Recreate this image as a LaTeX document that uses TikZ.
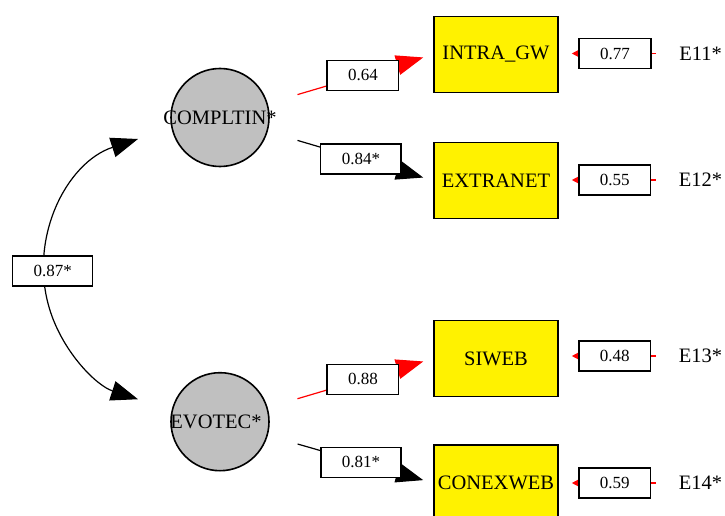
\documentclass[tikz,border=0pt]{standalone}
\usepackage{fontspec}
\setmainfont{Liberation Serif}
\usetikzlibrary{arrows.meta}
\definecolor{latgray}{HTML}{C0C0C0}
\begin{document}
\begin{tikzpicture}[x=1pt,y=-1pt,
  big/.style={font=\fontsize{20.5}{24}\selectfont},
  latent/.style={circle,draw=black,line width=1.6pt,fill=latgray,minimum size=98pt,inner sep=0pt},
  manifest/.style={rectangle,draw=black,line width=1.6pt,fill=yellow,minimum width=124pt,minimum height=76pt,inner sep=0pt,big},
  coef/.style={rectangle,draw=black,text=black,line width=1.4pt,fill=white,inner xsep=21pt,inner ysep=0pt,minimum height=30pt,font=\fontsize{17}{20}\selectfont},
  loading/.style={line width=1.2pt,-{Triangle[length=27pt,width=20pt]},shorten <=31pt,shorten >=10.4pt},
  err/.style={red,line width=1.2pt,-{Triangle[length=6pt,width=6pt]},shorten <=23pt,shorten >=13pt},
  elabel/.style={big,inner sep=0pt}
]
\path[use as bounding box,clip] (0,0) rectangle (725,516);
\fill[white] (0,0) rectangle (725,516);

% latent variables
\node[latent,label={center:\fontsize{20.5}{24}\selectfont COMPLTIN*}] (c1) at (220,117.5) {};
\node[latent,label={[xshift=-4pt]center:\fontsize{20.5}{24}\selectfont EVOTEC*}] (c2) at (220,421.7) {};

% manifest variables
\node[manifest] (m1) at (496,54.5) {INTRA\_GW};
\node[manifest] (m2) at (496,180.5) {EXTRANET};
\node[manifest] (m3) at (496,358.5) {SIWEB};
\node[manifest] (m4) at (496,483) {CONEXWEB};

% error labels
\node[elabel] (e1) at (700.5,53.5) {E11*};
\node[elabel] (e2) at (700.5,180) {E12*};
\node[elabel] (e3) at (700.5,356) {E13*};
\node[elabel] (e4) at (700.5,483) {E14*};

% loadings
\draw[loading,red] (c1) -- node[coef,pos=0.575] (l1) {0.64} (m1.west);
\draw[loading,black] (c1) -- node[coef,pos=0.563] (l2) {0.84*} (m2.west);
\draw[loading,red] (c2) -- node[coef,pos=0.575] (l3) {0.88} (m3.west);
\draw[loading,black] (c2) -- node[coef,pos=0.563] (l4) {0.81*} (m4.west);

% error paths
\draw[err] (e1.west) -- node[coef,pos=0.533] (v1) {0.77} (m1.east |- e1.west);
\draw[err] (e2.west) -- node[coef,pos=0.533] (v2) {0.55} (m2.east |- e2.west);
\draw[err] (e3.west) -- node[coef,pos=0.533] (v3) {0.48} (m3.east |- e3.west);
\draw[err] (e4.west) -- node[coef,pos=0.533] (v4) {0.59} (m4.east |- e4.west);

% covariance
\coordinate (ca) at (138,139);
\draw[line width=1.2pt,{Triangle[length=27pt,width=20pt]}-{Triangle[length=27pt,width=20pt]}]
  (ca) arc[start angle=251.9,end angle=108.1,radius=136.9]
  node[coef,pos=0.5,xshift=9pt,yshift=-2pt] (r1) {0.87*};
\end{tikzpicture}
\end{document}
